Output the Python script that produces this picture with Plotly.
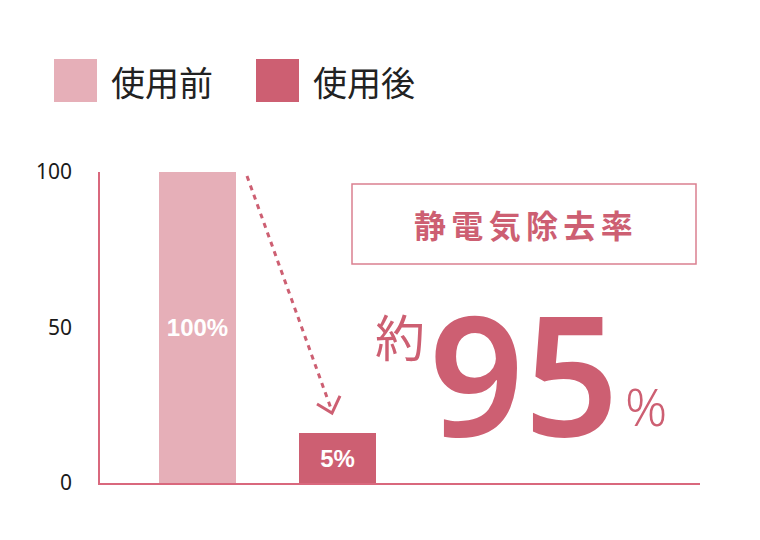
import plotly.graph_objects as go

# bars (x in plot units, 1 unit = 1 px across a 600 wide axis)
bar_names = ["使用前", "使用後"]
bar_pos = [97.5, 237.5]
bar_heights = [100, 16]
bar_labels = ["100%", "5%"]
bar_colors = ["#e6afb8", "#cd5f72"]

y_ticks = [0, 50, 100]

title_text = "静電気除去率"
big_prefix = "約"
big_value = "95"
big_unit = "%"

PINK = "#cd5f72"
AXIS = "#d9687d"
JP = "Noto Sans CJK JP"

fig = go.Figure()
for name, x, h, lab, col in zip(bar_names, bar_pos, bar_heights, bar_labels, bar_colors):
    fig.add_trace(go.Bar(
        x=[x], y=[h], width=77, name=name, marker_color=col, marker_line_width=0,
        text=[lab], textposition="inside", insidetextanchor="middle",
        textfont=dict(family="Arial, Liberation Sans", size=24, color="white", weight="bold"),
        showlegend=False, cliponaxis=False,
    ))

# legend squares + labels
legend_x = [54, 256]
for lx, name, col in zip(legend_x, bar_names, bar_colors):
    fig.add_shape(type="rect", xref="paper", yref="paper",
                  x0=(lx - 100) / 600, x1=(lx + 43 - 100) / 600,
                  y0=(483 - 102) / 311, y1=(483 - 59) / 311,
                  fillcolor=col, line_width=0)
    fig.add_annotation(xref="paper", yref="paper", x=(lx + 55 - 100) / 600, y=(483 - 81) / 311,
                       text=name, showarrow=False, xanchor="left", yanchor="middle",
                       font=dict(family=JP, size=34, color="#222222"))

# dotted arrow
fig.add_shape(type="line", xref="x", yref="y", x0=147, y0=98.7, x1=231.5, y1=23.5,
              line=dict(color=PINK, width=3, dash="5px,5px"))
fig.add_shape(type="path", xref="x", yref="y",
              path="M 217,25.4 L 232,22.5 L 240,28",
              line=dict(color=PINK, width=3))

# title box
fig.add_shape(type="rect", xref="x", yref="y", x0=252, x1=596,
              y0=(483 - 264) / 3.11, y1=(483 - 184) / 3.11,
              line=dict(color="#da8090", width=1.5), fillcolor="rgba(0,0,0,0)")
fig.add_annotation(x=423, y=(483 - 224) / 3.11, xref="x", yref="y",
                   text="\u2006".join(title_text), showarrow=False,
                   font=dict(family=JP, size=32, color=PINK, weight="bold"))

fig.add_annotation(x=300, y=(483 - 335) / 3.11, xref="x", yref="y", text=big_prefix,
                   showarrow=False, font=dict(family=JP, size=50, color=PINK))
fig.add_annotation(x=424, y=(483 - 372) / 3.11, xref="x", yref="y", text=big_value,
                   showarrow=False, font=dict(family="Noto Sans", size=166, color=PINK, weight=600))
fig.add_annotation(x=546, y=(483 - 405) / 3.11, xref="x", yref="y", text=big_unit,
                   showarrow=False, font=dict(family="Noto Sans", size=52, color=PINK, weight=300))

# page body adds an 8px offset, so margins are pulled in by 8
fig.update_layout(
    width=760, height=540,
    margin=dict(l=92, r=68, t=164, b=65),
    paper_bgcolor="white", plot_bgcolor="white",
    bargap=0,
)
fig.update_xaxes(range=[0, 600], showticklabels=False, showgrid=False, zeroline=False,
                 showline=True, linecolor=AXIS, linewidth=1.5, ticks="")
fig.update_yaxes(range=[0, 100], tickvals=y_ticks, showgrid=False, zeroline=False,
                 showline=True, linecolor=AXIS, linewidth=1.5, ticks="",
                 ticklabelstandoff=22,
                 tickfont=dict(family="Noto Sans", size=21, color="#1a1a1a"))

fig.write_html("out.html")
